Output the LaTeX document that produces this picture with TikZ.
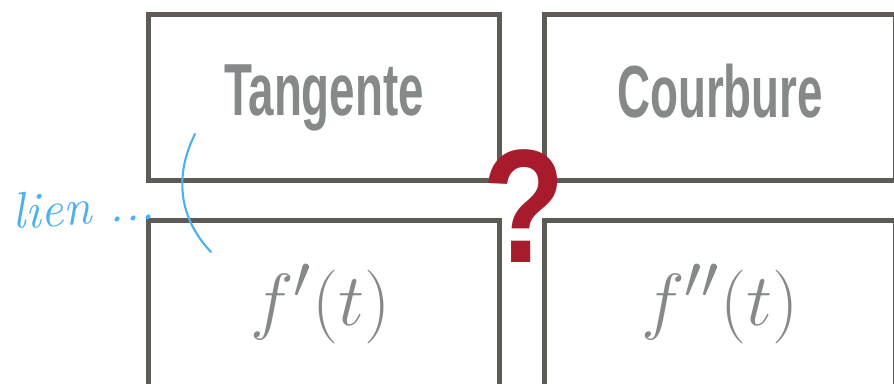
\documentclass[tikz,border=0pt]{standalone}
\usepackage[no-math]{fontspec}
\newfontfamily\titrefont{Liberation Sans}
\definecolor{cadregris}{HTML}{5E5B57}
\definecolor{textegris}{HTML}{86898A}
\definecolor{rougeq}{HTML}{A71B2C}
\definecolor{bleunote}{HTML}{4AB0F0}
\begin{document}
\begin{tikzpicture}[x=0.02cm,y=-0.02cm,
  cadre/.style={draw=cadregris,line width=0.1cm,minimum width=7.04cm,minimum height=3.34cm,inner sep=0pt},
  titre/.style={text=textegris,font=\titrefont\bfseries\fontsize{42}{42}\selectfont},
  formule/.style={text=textegris,font=\Huge},
  note/.style={text=bleunote,font=\itshape\fontsize{29}{29}\selectfont,inner sep=0pt}]
\useasboundingbox (0,0) rectangle (894,383);
\clip (0,0) rectangle (894,383);

% les quatre cadres
\node[cadre,titre] (tangente) at (324,97.5) {\raisebox{8pt}{\scalebox{0.62}[1]{Tangente}}};
\node[cadre,titre] (courbure) at (720,97.5) {\raisebox{8pt}{\scalebox{0.62}[1]{Courbure}}};
\node[cadre,formule] (fprime) at (324,304) {\hspace*{-4pt}\scalebox{1.69}{$f'(t)$}};
\node[cadre,formule] (fseconde) at (720,304) {\scalebox{1.69}{$f''(t)$}};

% point d'interrogation
\node[text=rougeq,font=\titrefont\bfseries\fontsize{92}{92}\selectfont,inner sep=0pt] (question) at (524,206) {\scalebox{0.84}[1]{?}};

% annotation a la main
\node[note,anchor=base west,rotate=4] (lien) at (13,229) {lien ...};
\coordinate (haut) at (195,134);
\coordinate (bas) at (211,252);
\draw[bleunote,line width=1.2pt,line cap=round] (haut) .. controls (176,172) and (176,215) .. (bas);
\end{tikzpicture}
\end{document}
